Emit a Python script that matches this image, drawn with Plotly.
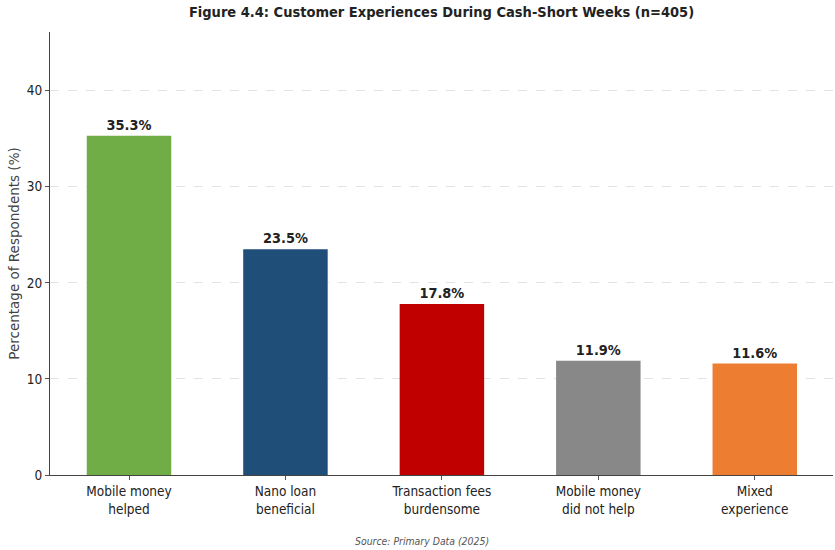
import plotly.graph_objects as go

categories = ["Mobile money<br>helped", "Nano loan<br>beneficial", "Transaction fees<br>burdensome",
              "Mobile money<br>did not help", "Mixed<br>experience"]
percentages = [35.3, 23.5, 17.8, 11.9, 11.6]
colors = ["#70AD47", "#1F4E79", "#C00000", "#888888", "#ED7D31"]
y_ticks = [0, 10, 20, 30, 40]

COND = "DejaVu Sans Condensed, DejaVu Sans"

fig = go.Figure()
fig.add_trace(go.Bar(
    x=list(range(len(categories))),
    y=percentages,
    width=0.54,
    marker=dict(color=colors, line=dict(width=0)),
    text=[f"{v:.1f}%" for v in percentages],
    textposition="outside",
    cliponaxis=False,
    textfont=dict(family=COND, size=14.4, color="#222222", weight="bold"),
    hoverinfo="skip",
))

fig.update_layout(
    width=835, height=550,
    margin=dict(l=50, r=2, t=32, b=75),
    paper_bgcolor="white", plot_bgcolor="white",
    showlegend=False,
    title=dict(text="<b>Figure 4.4: Customer Experiences During Cash-Short Weeks (n=405)</b>",
               xref="paper", x=0.5, xanchor="center", y=0.978, yanchor="middle",
               font=dict(family=COND, size=14.5, color="#222222")),
    font=dict(family=COND, size=13.5, color="#222222"),
)

fig.update_xaxes(
    range=[-0.505, 4.5],
    tickvals=list(range(len(categories))),
    ticktext=categories,
    ticks="outside", ticklen=4, tickcolor="#555555",
    showline=True, linecolor="#444444", linewidth=1,
    showgrid=False, zeroline=False,
    tickfont=dict(family=COND, size=13.5, color="#222222"),
)
fig.update_yaxes(
    range=[0, 46.1],
    tickvals=y_ticks,
    ticks="outside", ticklen=4, tickcolor="#555555",
    showline=True, linecolor="#444444", linewidth=1,
    showgrid=True, gridcolor="#E3E3E3", griddash="dash", gridwidth=1,
    zeroline=False,
    tickfont=dict(family=COND, size=13.5, color="#222222"),
    title=dict(text="Percentage of Respondents (%)", standoff=4,
               font=dict(family="DejaVu Sans", size=13.5, color="#444444")),
)

fig.add_annotation(
    text="<i>Source: Primary Data (2025)</i>",
    xref="paper", yref="paper", x=0.475, y=-0.149, xanchor="center", yanchor="middle",
    showarrow=False,
    font=dict(family=COND, size=10.4, color="#555555"),
)

fig.write_html("out.html")
